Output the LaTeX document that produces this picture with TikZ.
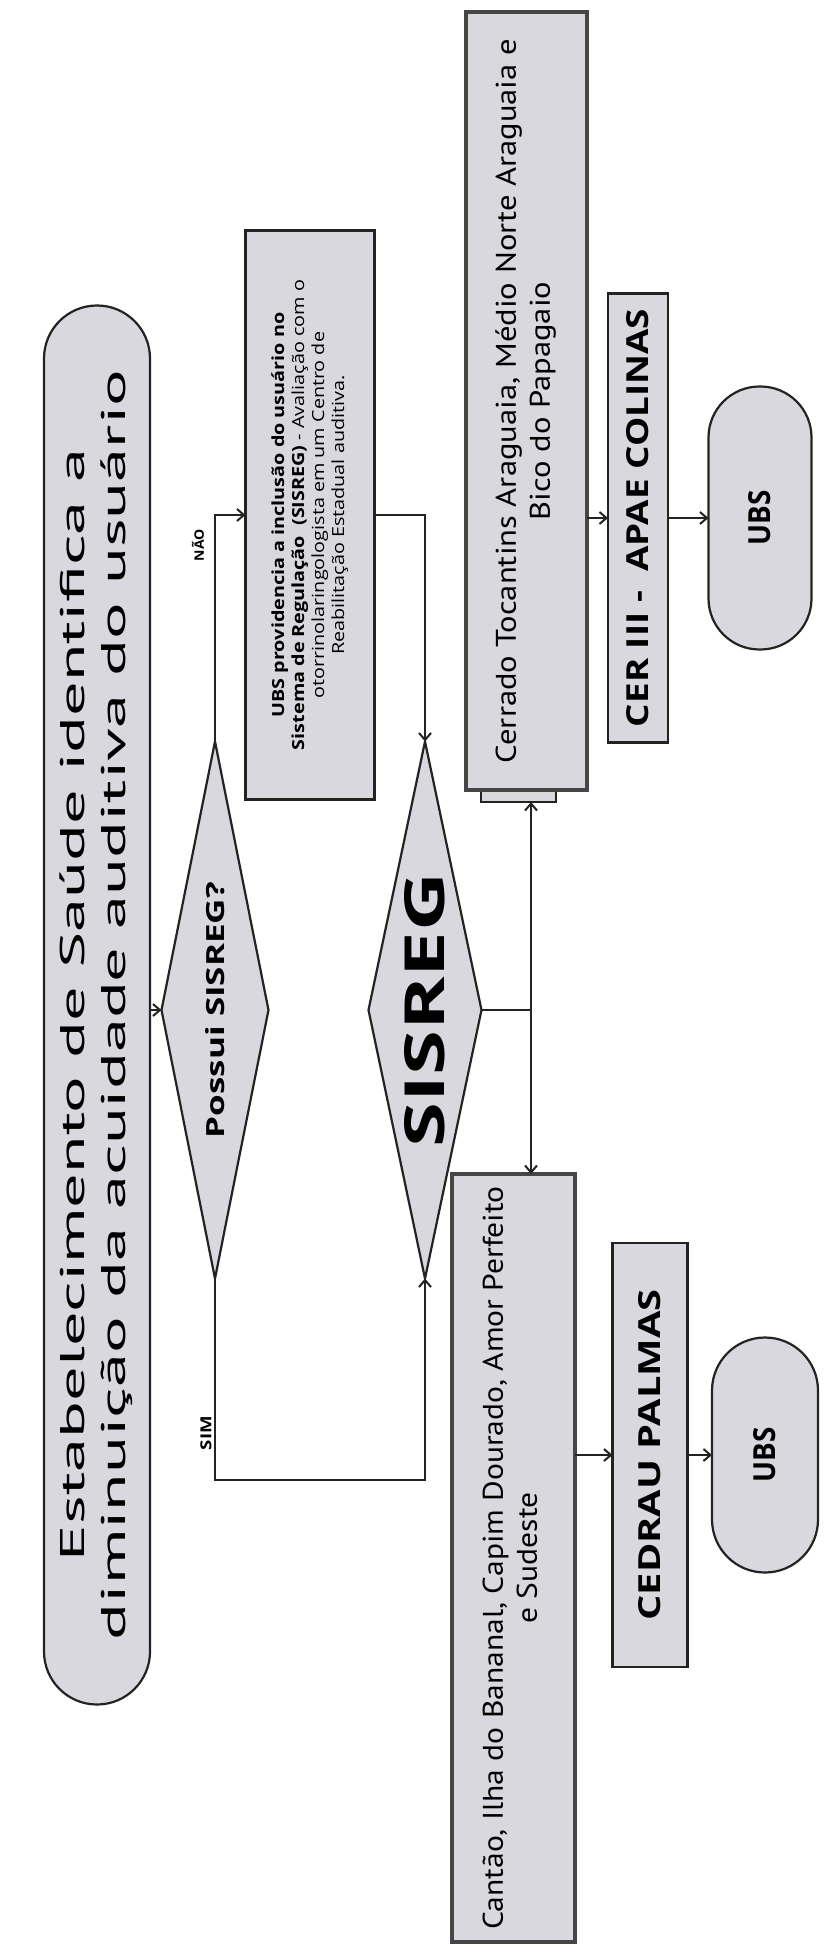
\documentclass[tikz,border=0pt]{standalone}
\usepackage{fontspec}
\setmainfont{Open Sans}
\newfontfamily\condf{PT Sans}
\usetikzlibrary{shapes.geometric,arrows.meta}
\definecolor{boxfill}{RGB}{216,216,222}
\definecolor{edge}{RGB}{35,35,35}
\definecolor{edgetwo}{RGB}{70,70,70}
\begin{document}
\begin{tikzpicture}[x=1pt,y=-1pt,
  every node/.style={inner sep=0pt, outer sep=0pt},
  shp/.style={draw=edge, line width=2.2pt, fill=boxfill, rotate=90},
  bigbox/.style={shp, draw=edgetwo, line width=4pt},
  dia/.style={shp, shape=diamond, shape aspect=5},
  lab/.style={rotate=90},
  ln/.style={draw=edge, line width=2pt},
  arr/.style={ln, -{Straight Barb[length=7pt,width=12pt]}}]
\path[use as bounding box, fill=white] (0,0) rectangle (823,1958);

\node[shp, rounded corners=53pt, minimum width=1399pt, minimum height=106pt] (st) at (97,1005)
  {\resizebox{1270pt}{70pt}{\condf\begin{tabular}[b]{@{}c@{}}Estabelecimento de Saúde identifica a\\ diminuição da acuidade auditiva do usuário\end{tabular}}};

\node[dia, minimum width=537pt, minimum height=107pt] (d1) at (215,1010)
  {\resizebox{256pt}{19pt}{\bfseries Possui SISREG?}};

\node[shp, minimum width=569pt, minimum height=129pt] (ubs) at (310,515)
  {\resizebox{470pt}{74pt}{\begin{tabular}[b]{@{}c@{}}\bfseries UBS providencia a inclusão do usuário no\\ \textbf{Sistema de Regulação\ \ (SISREG)} - Avaliação com o\\ otorrinolaringologista em um Centro de\\ Reabilitação Estadual auditiva.\end{tabular}}};

\node[dia, minimum width=537pt, minimum height=113pt] (d2) at (425,1010)
  {\resizebox{275pt}{40pt}{\bfseries SISREG}};

\node[draw=edge, line width=2pt, fill=boxfill, minimum width=75pt, minimum height=14pt] (tab) at (518,795) {};

\node[bigbox, minimum width=778pt, minimum height=121pt] (cer) at (526,401)
  {\resizebox{724pt}{58pt}{\condf\begin{tabular}[b]{@{}c@{}}Cerrado Tocantins Araguaia, Médio Norte Araguaia e\\ Bico do Papagaio\end{tabular}}};

\node[bigbox, minimum width=768pt, minimum height=123pt] (can) at (513,1558)
  {\resizebox{743pt}{58pt}{\condf\begin{tabular}[b]{@{}c@{}}Cantão, Ilha do Bananal, Capim Dourado, Amor Perfeito\\ e Sudeste\end{tabular}}};

\node[shp, minimum width=449pt, minimum height=60pt] (cerii) at (638,518)
  {\resizebox{418pt}{22pt}{\bfseries CER III -\ \ APAE COLINAS}};
\node[shp, rounded corners=51pt, minimum width=263pt, minimum height=103pt] (u1) at (760,518)
  {\resizebox{55pt}{22pt}{\bfseries UBS}};

\node[shp, minimum width=424pt, minimum height=75pt] (ced) at (650,1455)
  {\resizebox{331pt}{22pt}{\bfseries CEDRAU PALMAS}};
\node[shp, rounded corners=53pt, minimum width=235pt, minimum height=106pt] (u2) at (765,1455)
  {\resizebox{55pt}{22pt}{\bfseries UBS}};

\coordinate (simc) at (215,1480);
\coordinate (j) at (531,1010);

\draw[arr] (d1.north -| st.south) -- (d1.north);
\draw[arr] (d1.east) |- (ubs.north);
\draw[arr] (ubs.south) -| (d2.east);
\draw[arr] (d1.west) -- (simc) -| (d2.west);
\draw[ln] (d2.south) -- (j);
\draw[arr] (j) -- (j |- tab.south);
\draw[arr] (j) -- (j |- can.east);
\draw[arr] (cerii.north -| cer.south) -- (cerii.north);
\draw[arr] (cerii.south) -- (u1.north);
\draw[arr] (ced.north -| can.south) -- (ced.north);
\draw[arr] (ced.south) -- (u2.north);

\node[lab] (nao) at (198,545) {\resizebox{32pt}{12pt}{\bfseries NÃO}};
\node[lab] (sim) at (206,1433) {\resizebox{34pt}{11pt}{\bfseries SIM}};
\end{tikzpicture}
\end{document}
